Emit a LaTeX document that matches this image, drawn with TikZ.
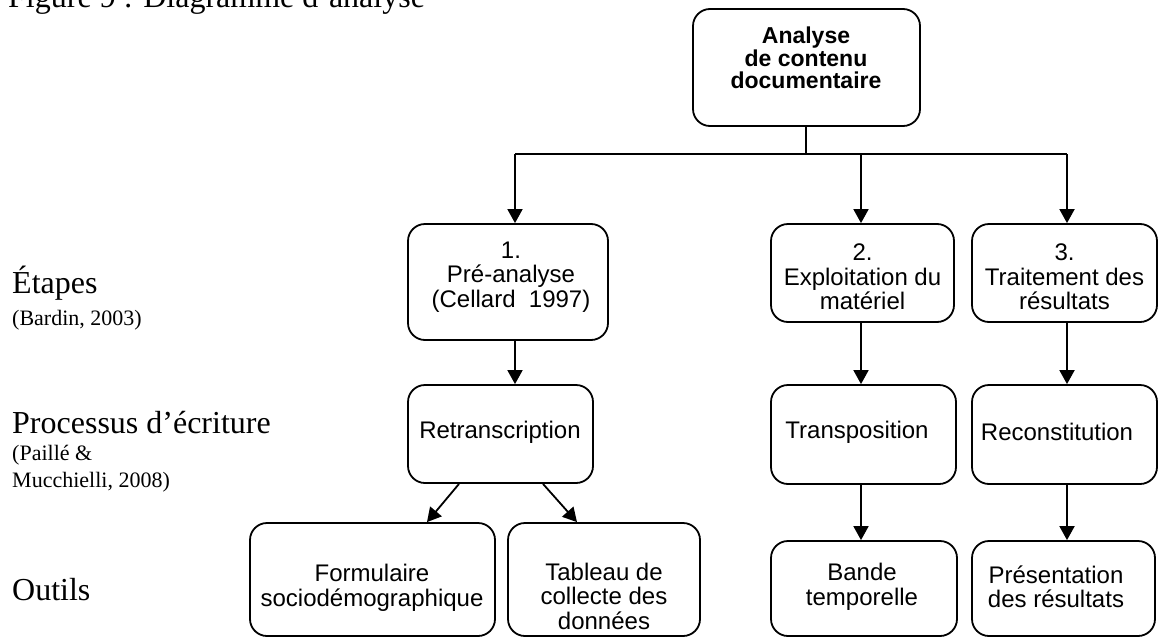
\documentclass[tikz,border=0pt]{standalone}
\usepackage{fontspec}
\setmainfont{Liberation Serif}
\newfontfamily\boxfont{Liberation Sans}
\usetikzlibrary{arrows.meta}
\begin{document}
\begin{tikzpicture}[x=1pt,y=-1pt,
  box/.style={draw,line width=1.8pt,rounded corners=17pt,inner sep=0pt},
  txt/.style={align=center,inner sep=0pt,font=\boxfont\fontsize{24}{24.5}\selectfont},
  btxt/.style={align=center,inner sep=0pt,font=\boxfont\bfseries\fontsize{23}{22.5}\selectfont},
  big/.style={anchor=base west,inner sep=0pt,font=\fontsize{32}{32}\selectfont},
  small/.style={anchor=base west,inner sep=0pt,font=\fontsize{22}{22}\selectfont},
  conn/.style={line width=1.8pt},
  arr/.style={line width=1.8pt,-{Triangle[width=15pt,length=14pt]}}]
\clip (0,0) rectangle (1159,637);
\path[fill=white] (0,0) rectangle (1159,637);
% caption (cut at top)
\node[big] (cap) at (8,8) {Figure 9 : Diagramme d’analyse};
% left labels
\node[big] (l1) at (12,293) {Étapes};
\node[small] (l1b) at (12,325) {(Bardin, 2003)};
\node[big] (l2) at (12,433) {Processus d’écriture};
\node[small] (l2b) at (12,460) {(Paillé \&};
\node[small] (l2c) at (12,487) {Mucchielli, 2008)};
\node[big] (l3) at (12,600) {Outils};
% boxes
\node[box,minimum width=227,minimum height=117] (top) at (806.5,67.5) {};
\node[btxt] (toptxt) at (806,58) {Analyse\\de contenu\\documentaire};
\node[box,minimum width=200,minimum height=116] (pre) at (508,282) {};
\node[txt] (pretxt) at (511,277) {1.\\Pré-analyse\\(Cellard\ \ 1997)};
\node[box,minimum width=183,minimum height=98] (expl) at (862.5,273) {};
\node[txt] (expltxt) at (862.5,277) {2.\\Exploitation du\\matériel};
\node[box,minimum width=185,minimum height=98] (trait) at (1064.5,273) {};
\node[txt] (traittxt) at (1064.5,277) {3.\\Traitement des\\résultats};
\node[box,minimum width=185,minimum height=98] (retr) at (500.5,434) {};
\node[txt] (retrtxt) at (500,432) {Retranscription};
\node[box,minimum width=185,minimum height=99] (transp) at (863.5,434.5) {};
\node[txt] (transptxt) at (857,432) {Transposition};
\node[box,minimum width=185,minimum height=99] (recon) at (1064.5,434.5) {};
\node[txt] (recontxt) at (1057,432) {Reconstitution};
\node[box,minimum width=245,minimum height=113] (form) at (372.5,579.5) {};
\node[txt] (formtxt) at (372,588) {Formulaire\\sociodémographique};
\node[box,minimum width=192,minimum height=113] (tabl) at (604,579.5) {};
\node[txt] (tabltxt) at (604,596) {Tableau de\\collecte des\\données};
\node[box,minimum width=186,minimum height=95] (bande) at (864,588.5) {};
\node[txt] (bandetxt) at (862,587) {Bande\\temporelle};
\node[box,minimum width=183,minimum height=95] (pres) at (1063.5,588.5) {};
\node[txt] (prestxt) at (1056,587) {Présentation\\des résultats};
% connectors
\coordinate (j) at (806,154);
\coordinate (jl) at (515,154);
\coordinate (jr) at (1067,154);
\coordinate (jm) at (861,154);
\draw[conn] (top.south -| j) -- (j);
\draw[conn] (jl) -- (jr);
\draw[arr] (jl) -- (jl |- pre.north);
\draw[arr] (jm) -- (jm |- expl.north);
\draw[arr] (jr) -- (jr |- trait.north);
\draw[arr] (pre.south -| jl) -- (retr.north -| jl);
\draw[arr] (expl.south -| jm) -- (transp.north -| jm);
\draw[arr] (trait.south -| jr) -- (recon.north -| jr);
\draw[arr] ([xshift=-41.5pt]retr.south) -- ([xshift=54.5pt]form.north);
\draw[arr] ([xshift=42.5pt]retr.south) -- ([xshift=-27pt]tabl.north);
\draw[arr] (transp.south -| jm) -- (bande.north -| jm);
\draw[arr] (recon.south -| jr) -- (pres.north -| jr);
\end{tikzpicture}
\end{document}
